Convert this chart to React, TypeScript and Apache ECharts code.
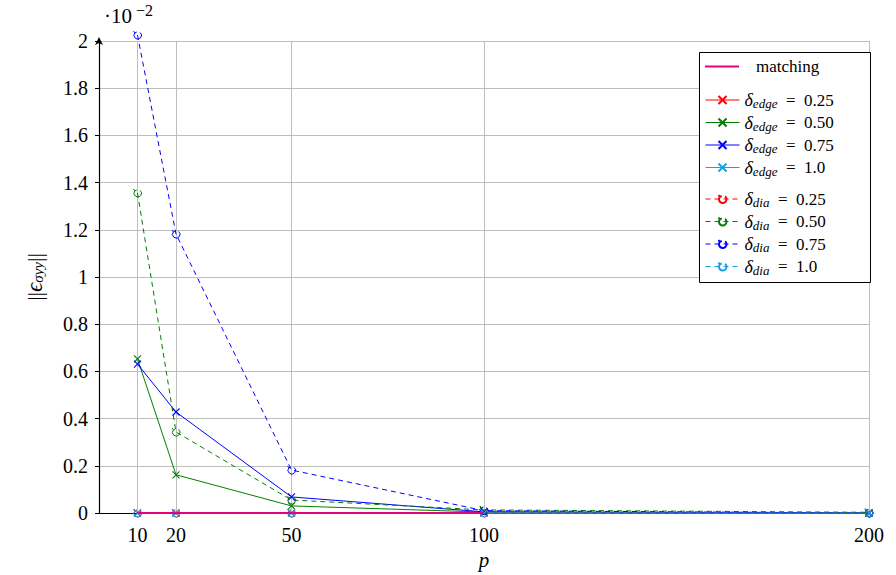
import { useEffect, useRef } from 'react'
import * as echarts from 'echarts'

const pValues = [10, 20, 50, 100, 200]
const matchingP = [10, 20, 50, 100]
const matching = [0, 0, 0, 0]

const edge025 = [0, 0, 0, 0, 0]
const edge050 = [0.653, 0.162, 0.03, 0.004, 0]
const edge075 = [0.631, 0.428, 0.068, 0.005, 0]
const edge100 = [0, 0, 0, 0, 0]

const dia025 = [0, 0, 0, 0, 0]
const dia050 = [1.356, 0.343, 0.055, 0.013, 0.003]
const dia075 = [2.025, 1.182, 0.182, 0.01, 0]
const dia100 = [0, 0, 0, 0, 0]

const FONT = '"Liberation Serif", "DejaVu Serif", serif'
const RED = '#FF0000'
const GREEN = '#008000'
const BLUE = '#0000FF'
const CYAN = '#1BA1E2'
const MAGENTA = '#E6007E'

const CROSS = 'path://M0,0L10,10M10,0L0,10'
const HOOK = 'path://M8,1.5A4,4,0,1,1,2.5,2L1,0M2.5,2L4.5,1'

const pairs = (xs: number[], ys: number[]) => ys.map((y, i) => [xs[i], y])

const legendRich = {
  d: { fontFamily: FONT, fontStyle: 'italic' as const, fontSize: 18, lineHeight: 16, color: '#000' },
  s: { fontFamily: FONT, fontStyle: 'italic' as const, fontSize: 13, lineHeight: 16, color: '#000', padding: [7, 0, 0, 0] },
  n: { fontFamily: FONT, fontSize: 17, lineHeight: 16, color: '#000' },
  m: { fontFamily: FONT, fontSize: 17, lineHeight: 16, color: '#000', padding: [0, 0, 0, 12] },
}

function legendLabel(name: string) {
  if (name === 'matching') return `{m|matching}`
  const [kind, val] = name.split(':')
  return `{d|δ}{s|${kind}}{n|  =  ${val}}`
}

export default function App() {
  const ref = useRef<HTMLDivElement>(null)

  useEffect(() => {
    if (!ref.current) return
    const chart = echarts.init(ref.current, undefined, { renderer: 'svg' })

    const edge = (name: string, color: string, vals: number[]) => ({
      name,
      type: 'line' as const,
      data: pairs(pValues, vals),
      symbol: CROSS,
      symbolSize: 7,
      showAllSymbol: true,
      clip: false,
      z: 3,
      lineStyle: { color, width: 1 },
      itemStyle: { color: 'transparent', borderColor: color, borderWidth: 1.1 },
    })
    const dia = (name: string, color: string, vals: number[]) => ({
      name,
      type: 'line' as const,
      data: pairs(pValues, vals),
      symbol: HOOK,
      symbolSize: 8,
      showAllSymbol: true,
      clip: false,
      z: 3,
      lineStyle: { color, width: 1, type: [5, 4] as number[] },
      itemStyle: { color: 'transparent', borderColor: color, borderWidth: 1 },
    })

    const legendBase = {
      orient: 'vertical' as const,
      left: 700,
      itemWidth: 34,
      itemHeight: 10,
      itemGap: 2.5,
      lineStyle: { width: 1 },
      textStyle: { rich: legendRich },
      formatter: legendLabel,
      z: 10,
    }

    chart.setOption({
      animation: false,
      grid: { left: 99, right: 27, top: 41, bottom: 62, outerBoundsMode: 'none' },
      xAxis: {
        type: 'value',
        min: 0,
        max: 200,
        name: 'p',
        nameLocation: 'middle',
        nameGap: 33,
        nameTextStyle: { fontFamily: FONT, fontStyle: 'italic', fontSize: 21, color: '#000' },
        axisLine: { lineStyle: { color: '#000', width: 1.2 } },
        axisTick: { show: false, customValues: pValues },
        axisLabel: { customValues: pValues, fontFamily: FONT, fontSize: 20, color: '#000', margin: 12 },
        splitLine: { show: true, lineStyle: { color: '#BEBEBE', width: 1 } },
      },
      yAxis: {
        type: 'value',
        min: 0,
        max: 2,
        interval: 0.2,
        name: '{n|||}{e|ϵ}{s|σyy}{n|||}',
        nameLocation: 'middle',
        nameGap: 53,
        nameRotate: 90,
        nameTextStyle: {
          rich: {
            n: { fontFamily: FONT, fontSize: 22, color: '#000', lineHeight: 24 },
            e: { fontFamily: FONT, fontStyle: 'italic', fontSize: 23, color: '#000', lineHeight: 24 },
            s: { fontFamily: FONT, fontStyle: 'italic', fontSize: 15, color: '#000', lineHeight: 24, padding: [8, 0, 0, 0] },
          },
        },
        axisLine: { show: true, symbol: ['none', 'arrow'], symbolSize: [6, 8], symbolOffset: [0, 4], lineStyle: { color: '#000', width: 1.2 } },
        axisTick: { show: true, length: 4, lineStyle: { color: '#000' } },
        axisLabel: {
          fontFamily: FONT,
          fontSize: 20,
          color: '#000',
          margin: 11,
          formatter: (v: number | string) => String(Math.round(Number(v) * 10) / 10),
        },
        splitLine: { show: true, lineStyle: { color: '#BEBEBE', width: 1 } },
      },
      legend: [
        {
          ...legendBase,
          top: 53,
          icon: 'rect',
          itemHeight: 2,
          itemStyle: { color: MAGENTA },
          data: ['matching'],
        },
        { ...legendBase, top: 85, data: ['edge:0.25', 'edge:0.50', 'edge:0.75', 'edge:1.0'] },
        { ...legendBase, top: 184, data: ['dia:0.25', 'dia:0.50', 'dia:0.75', 'dia:1.0'] },
      ],
      graphic: [
        {
          type: 'rect',
          z: 5,
          shape: { x: 699.5, y: 52.5, width: 171, height: 230 },
          style: { fill: '#fff', stroke: '#000', lineWidth: 1 },
        },
        {
          type: 'text',
          x: 104,
          y: 26,
          style: { text: '·10', fontFamily: FONT, fontSize: 21, fill: '#000', verticalAlign: 'bottom' },
        },
        {
          type: 'text',
          x: 136,
          y: 18,
          style: { text: '−2', fontFamily: FONT, fontSize: 16, fill: '#000', verticalAlign: 'bottom' },
        },
      ],
      series: [
        {
          name: 'matching',
          type: 'line',
          data: pairs(matchingP, matching),
          symbol: 'none',
          z: 4,
          lineStyle: { color: MAGENTA, width: 2 },
          itemStyle: { color: MAGENTA },
        },
        edge('edge:0.25', RED, edge025),
        edge('edge:0.50', GREEN, edge050),
        edge('edge:0.75', BLUE, edge075),
        edge('edge:1.0', CYAN, edge100),
        dia('dia:0.25', RED, dia025),
        dia('dia:0.50', GREEN, dia050),
        dia('dia:0.75', BLUE, dia075),
        dia('dia:1.0', CYAN, dia100),
      ],
    })

    return () => chart.dispose()
  }, [])

  return <div ref={ref} style={{ position: 'absolute', left: 0, top: 0, width: 896, height: 575 }} />
}
